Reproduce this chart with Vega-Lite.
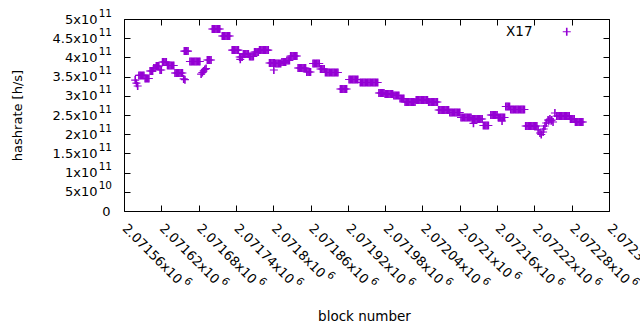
{
"$schema": "https://vega.github.io/schema/vega-lite/v6.json",
"width": 485, "height": 192,
"autosize": {"type": "none"},
"padding": {"left": 124, "top": 19, "right": 31, "bottom": 119},
"background": "white",
"config": {
 "view": {"stroke": "#000", "strokeWidth": 1, "fill": "white"},
 "font": "DejaVu Sans",
 "axis": {"grid": false, "domain": false, "labelColor": "#000", "titleColor": "#000", "tickColor": "#000", "tickWidth": 1, "labelFont": "DejaVu Sans", "titleFont": "DejaVu Sans", "labelOverlap": false, "labelFlush": false, "labelBound": false}
},
"data": {"values": [
{"b":2071578,"h":3.41e11},{"b":2071580,"h":3.33e11},{"b":2071582,"h":3.255e11},
{"b":2071584,"h":3.53e11},{"b":2071586,"h":3.53e11},{"b":2071588,"h":3.53e11},{"b":2071590,"h":3.53e11},{"b":2071592,"h":3.53e11},
{"b":2071594,"h":3.45e11},{"b":2071596,"h":3.45e11},{"b":2071598,"h":3.45e11},{"b":2071600,"h":3.45e11},
{"b":2071602,"h":3.646e11},{"b":2071604,"h":3.646e11},{"b":2071606,"h":3.646e11},
{"b":2071608,"h":3.724e11},{"b":2071610,"h":3.724e11},
{"b":2071612,"h":3.776e11},{"b":2071614,"h":3.776e11},{"b":2071616,"h":3.776e11},
{"b":2071618,"h":3.672e11},{"b":2071620,"h":3.672e11},
{"b":2071622,"h":3.88e11},{"b":2071624,"h":3.88e11},{"b":2071626,"h":3.88e11},{"b":2071628,"h":3.88e11},
{"b":2071630,"h":3.789e11},{"b":2071632,"h":3.789e11},{"b":2071634,"h":3.789e11},{"b":2071636,"h":3.789e11},{"b":2071638,"h":3.789e11},{"b":2071640,"h":3.789e11},
{"b":2071642,"h":3.594e11},{"b":2071644,"h":3.594e11},{"b":2071646,"h":3.594e11},{"b":2071648,"h":3.594e11},{"b":2071650,"h":3.594e11},{"b":2071652,"h":3.594e11},{"b":2071654,"h":3.594e11},
{"b":2071656,"h":3.44e11},{"b":2071658,"h":3.42e11},
{"b":2071657,"h":4.166e11},{"b":2071659,"h":4.166e11},{"b":2071661,"h":4.166e11},{"b":2071663,"h":4.166e11},
{"b":2071666,"h":3.893e11},{"b":2071668,"h":3.893e11},{"b":2071670,"h":3.893e11},{"b":2071672,"h":3.893e11},{"b":2071674,"h":3.893e11},{"b":2071676,"h":3.893e11},{"b":2071678,"h":3.893e11},{"b":2071680,"h":3.893e11},{"b":2071682,"h":3.893e11},
{"b":2071684,"h":3.567e11},{"b":2071686,"h":3.607e11},{"b":2071688,"h":3.646e11},{"b":2071690,"h":3.685e11},{"b":2071692,"h":3.71e11},
{"b":2071694,"h":3.932e11},{"b":2071696,"h":3.932e11},{"b":2071698,"h":3.932e11},{"b":2071700,"h":3.932e11},
{"b":2071702,"h":4.739e11},{"b":2071704,"h":4.739e11},{"b":2071706,"h":4.739e11},{"b":2071708,"h":4.739e11},{"b":2071710,"h":4.739e11},{"b":2071712,"h":4.739e11},{"b":2071714,"h":4.739e11},
{"b":2071718,"h":4.557e11},{"b":2071720,"h":4.557e11},{"b":2071722,"h":4.557e11},{"b":2071724,"h":4.557e11},{"b":2071726,"h":4.557e11},{"b":2071728,"h":4.557e11},{"b":2071730,"h":4.557e11},
{"b":2071734,"h":4.192e11},{"b":2071736,"h":4.192e11},{"b":2071738,"h":4.192e11},{"b":2071740,"h":4.192e11},{"b":2071742,"h":4.192e11},{"b":2071744,"h":4.192e11},
{"b":2071746,"h":4.01e11},{"b":2071748,"h":4.01e11},{"b":2071750,"h":4.01e11},{"b":2071747,"h":3.95e11},
{"b":2071752,"h":4.088e11},{"b":2071754,"h":4.088e11},{"b":2071756,"h":4.088e11},{"b":2071758,"h":4.088e11},{"b":2071760,"h":4.088e11},
{"b":2071762,"h":4.023e11},{"b":2071764,"h":4.023e11},{"b":2071766,"h":4.023e11},{"b":2071768,"h":4.023e11},
{"b":2071770,"h":4.14e11},{"b":2071772,"h":4.14e11},{"b":2071774,"h":4.14e11},{"b":2071776,"h":4.14e11},
{"b":2071778,"h":4.192e11},{"b":2071780,"h":4.192e11},{"b":2071782,"h":4.192e11},{"b":2071784,"h":4.192e11},{"b":2071786,"h":4.192e11},{"b":2071788,"h":4.192e11},{"b":2071790,"h":4.192e11},{"b":2071792,"h":4.192e11},
{"b":2071794,"h":3.854e11},{"b":2071796,"h":3.854e11},{"b":2071798,"h":3.854e11},{"b":2071800,"h":3.854e11},{"b":2071802,"h":3.854e11},{"b":2071801,"h":3.672e11},
{"b":2071804,"h":3.841e11},{"b":2071806,"h":3.841e11},{"b":2071808,"h":3.841e11},{"b":2071810,"h":3.841e11},{"b":2071812,"h":3.841e11},
{"b":2071814,"h":3.88e11},{"b":2071816,"h":3.88e11},{"b":2071818,"h":3.88e11},{"b":2071820,"h":3.88e11},
{"b":2071822,"h":3.919e11},{"b":2071824,"h":3.919e11},{"b":2071826,"h":3.919e11},
{"b":2071828,"h":4.036e11},{"b":2071830,"h":4.036e11},{"b":2071832,"h":4.036e11},{"b":2071834,"h":4.036e11},{"b":2071836,"h":4.036e11},{"b":2071838,"h":4.036e11},
{"b":2071840,"h":3.724e11},{"b":2071842,"h":3.724e11},{"b":2071844,"h":3.724e11},{"b":2071846,"h":3.724e11},{"b":2071848,"h":3.724e11},{"b":2071850,"h":3.724e11},{"b":2071852,"h":3.724e11},
{"b":2071854,"h":3.62e11},{"b":2071856,"h":3.62e11},{"b":2071858,"h":3.62e11},{"b":2071860,"h":3.62e11},
{"b":2071864,"h":3.841e11},{"b":2071866,"h":3.841e11},{"b":2071868,"h":3.841e11},{"b":2071870,"h":3.841e11},{"b":2071872,"h":3.841e11},{"b":2071874,"h":3.841e11},
{"b":2071876,"h":3.698e11},{"b":2071878,"h":3.698e11},{"b":2071880,"h":3.698e11},{"b":2071882,"h":3.698e11},
{"b":2071884,"h":3.607e11},{"b":2071886,"h":3.607e11},{"b":2071888,"h":3.607e11},{"b":2071890,"h":3.607e11},{"b":2071892,"h":3.607e11},{"b":2071894,"h":3.607e11},{"b":2071896,"h":3.607e11},{"b":2071898,"h":3.607e11},{"b":2071900,"h":3.607e11},{"b":2071902,"h":3.607e11},{"b":2071904,"h":3.607e11},
{"b":2071908,"h":3.177e11},{"b":2071910,"h":3.177e11},{"b":2071912,"h":3.177e11},{"b":2071914,"h":3.177e11},{"b":2071916,"h":3.177e11},{"b":2071918,"h":3.177e11},
{"b":2071922,"h":3.424e11},{"b":2071924,"h":3.424e11},{"b":2071926,"h":3.424e11},{"b":2071928,"h":3.424e11},{"b":2071930,"h":3.424e11},{"b":2071932,"h":3.424e11},{"b":2071934,"h":3.424e11},{"b":2071936,"h":3.424e11},
{"b":2071940,"h":3.346e11},{"b":2071942,"h":3.346e11},{"b":2071944,"h":3.346e11},{"b":2071946,"h":3.346e11},{"b":2071948,"h":3.346e11},{"b":2071950,"h":3.346e11},{"b":2071952,"h":3.346e11},{"b":2071954,"h":3.346e11},{"b":2071956,"h":3.346e11},{"b":2071958,"h":3.346e11},{"b":2071960,"h":3.346e11},{"b":2071962,"h":3.346e11},{"b":2071964,"h":3.346e11},{"b":2071966,"h":3.346e11},{"b":2071968,"h":3.346e11},
{"b":2071970,"h":3.073e11},{"b":2071972,"h":3.073e11},{"b":2071974,"h":3.073e11},{"b":2071976,"h":3.073e11},{"b":2071978,"h":3.073e11},
{"b":2071980,"h":3.047e11},{"b":2071982,"h":3.047e11},{"b":2071984,"h":3.047e11},{"b":2071986,"h":3.047e11},{"b":2071988,"h":3.047e11},{"b":2071990,"h":3.047e11},{"b":2071992,"h":3.047e11},
{"b":2071994,"h":3.008e11},{"b":2071996,"h":3.008e11},{"b":2071998,"h":3.008e11},{"b":2072000,"h":3.008e11},{"b":2072002,"h":3.008e11},
{"b":2072004,"h":2.93e11},{"b":2072006,"h":2.93e11},{"b":2072008,"h":2.93e11},{"b":2072010,"h":2.93e11},
{"b":2072012,"h":2.838e11},{"b":2072014,"h":2.838e11},{"b":2072016,"h":2.838e11},{"b":2072018,"h":2.838e11},{"b":2072020,"h":2.838e11},{"b":2072022,"h":2.838e11},{"b":2072024,"h":2.838e11},{"b":2072026,"h":2.838e11},{"b":2072028,"h":2.838e11},
{"b":2072030,"h":2.89e11},{"b":2072032,"h":2.89e11},{"b":2072034,"h":2.89e11},{"b":2072036,"h":2.89e11},{"b":2072038,"h":2.89e11},{"b":2072040,"h":2.89e11},{"b":2072042,"h":2.89e11},{"b":2072044,"h":2.89e11},{"b":2072046,"h":2.89e11},{"b":2072048,"h":2.89e11},
{"b":2072050,"h":2.838e11},{"b":2072052,"h":2.838e11},{"b":2072054,"h":2.838e11},{"b":2072056,"h":2.838e11},{"b":2072058,"h":2.838e11},{"b":2072060,"h":2.838e11},{"b":2072062,"h":2.838e11},{"b":2072064,"h":2.838e11},
{"b":2072066,"h":2.63e11},{"b":2072068,"h":2.63e11},{"b":2072070,"h":2.63e11},{"b":2072072,"h":2.63e11},{"b":2072074,"h":2.63e11},{"b":2072076,"h":2.63e11},{"b":2072078,"h":2.63e11},{"b":2072080,"h":2.63e11},{"b":2072082,"h":2.63e11},
{"b":2072084,"h":2.565e11},{"b":2072086,"h":2.565e11},{"b":2072088,"h":2.565e11},{"b":2072090,"h":2.565e11},{"b":2072092,"h":2.565e11},{"b":2072094,"h":2.565e11},{"b":2072096,"h":2.565e11},{"b":2072098,"h":2.565e11},{"b":2072100,"h":2.565e11},
{"b":2072102,"h":2.435e11},{"b":2072104,"h":2.435e11},{"b":2072106,"h":2.435e11},{"b":2072108,"h":2.435e11},{"b":2072110,"h":2.435e11},{"b":2072112,"h":2.435e11},{"b":2072114,"h":2.435e11},{"b":2072116,"h":2.435e11},{"b":2072118,"h":2.435e11},
{"b":2072120,"h":2.396e11},{"b":2072122,"h":2.396e11},{"b":2072124,"h":2.396e11},{"b":2072126,"h":2.396e11},{"b":2072128,"h":2.396e11},{"b":2072130,"h":2.396e11},{"b":2072132,"h":2.396e11},{"b":2072134,"h":2.396e11},{"b":2072136,"h":2.396e11},{"b":2072122,"h":2.284e11},
{"b":2072138,"h":2.226e11},{"b":2072140,"h":2.226e11},{"b":2072142,"h":2.226e11},{"b":2072144,"h":2.226e11},{"b":2072146,"h":2.226e11},
{"b":2072150,"h":2.5e11},{"b":2072152,"h":2.5e11},{"b":2072154,"h":2.5e11},{"b":2072156,"h":2.5e11},{"b":2072158,"h":2.5e11},{"b":2072160,"h":2.5e11},
{"b":2072162,"h":2.435e11},{"b":2072164,"h":2.435e11},{"b":2072166,"h":2.435e11},{"b":2072168,"h":2.435e11},{"b":2072170,"h":2.435e11},{"b":2072172,"h":2.435e11},{"b":2072168,"h":2.344e11},
{"b":2072174,"h":2.721e11},{"b":2072176,"h":2.721e11},{"b":2072178,"h":2.721e11},{"b":2072180,"h":2.721e11},
{"b":2072182,"h":2.643e11},{"b":2072184,"h":2.643e11},{"b":2072186,"h":2.643e11},{"b":2072188,"h":2.643e11},{"b":2072190,"h":2.643e11},{"b":2072192,"h":2.643e11},{"b":2072194,"h":2.643e11},{"b":2072196,"h":2.643e11},{"b":2072198,"h":2.643e11},{"b":2072200,"h":2.643e11},{"b":2072202,"h":2.643e11},{"b":2072204,"h":2.643e11},
{"b":2072206,"h":2.213e11},{"b":2072208,"h":2.213e11},{"b":2072210,"h":2.213e11},{"b":2072212,"h":2.213e11},{"b":2072214,"h":2.213e11},{"b":2072216,"h":2.213e11},{"b":2072218,"h":2.213e11},{"b":2072220,"h":2.213e11},{"b":2072222,"h":2.213e11},{"b":2072224,"h":2.213e11},
{"b":2072226,"h":2.109e11},{"b":2072229,"h":2.031e11},{"b":2072231,"h":1.992e11},{"b":2072234,"h":2.057e11},{"b":2072235,"h":2.135e11},
{"b":2072237,"h":2.213e11},{"b":2072239,"h":2.292e11},{"b":2072242,"h":2.37e11},{"b":2072243,"h":2.35e11},{"b":2072245,"h":2.396e11},{"b":2072247,"h":2.35e11},{"b":2072248,"h":2.37e11},{"b":2072250,"h":2.318e11},{"b":2072253,"h":2.552e11},
{"b":2072256,"h":2.474e11},{"b":2072258,"h":2.474e11},{"b":2072260,"h":2.474e11},{"b":2072262,"h":2.474e11},{"b":2072264,"h":2.474e11},{"b":2072266,"h":2.474e11},{"b":2072268,"h":2.474e11},{"b":2072270,"h":2.474e11},{"b":2072272,"h":2.474e11},{"b":2072274,"h":2.474e11},{"b":2072276,"h":2.474e11},
{"b":2072278,"h":2.396e11},{"b":2072280,"h":2.396e11},{"b":2072282,"h":2.396e11},{"b":2072284,"h":2.396e11},
{"b":2072286,"h":2.318e11},{"b":2072288,"h":2.318e11},{"b":2072290,"h":2.318e11},{"b":2072292,"h":2.318e11},{"b":2072294,"h":2.318e11},{"b":2072296,"h":2.318e11},{"b":2072298,"h":2.318e11}
]},
"layer": [
 {
  "mark": {"type": "point", "shape": "M-1,-0.15H-0.2V-1H0.2V-0.15H1V0.15H0.2V1H-0.2V0.15H-1Z", "filled": true, "size": 64, "strokeWidth": 0, "opacity": 1},
  "encoding": {
   "x": {"field": "b", "type": "quantitative", "scale": {"domain": [2071560, 2072340], "nice": false, "zero": false},
    "axis": {"orient": "bottom", "values": [2071560,2071620,2071680,2071740,2071800,2071860,2071920,2071980,2072040,2072100,2072160,2072220,2072280,2072340],
     "labelExpr": "format(datum.value/1e6,'.5~f')+'x10'", "labelAngle": 45, "labelAlign": "left", "labelBaseline": "middle", "labelFontSize": 13, "labelPadding": 15, "ticks": false, "tickSize": 0,
     "title": "block number", "titleFontSize": 13.5, "titleFontWeight": "normal", "titleX": 240, "titleY": 105, "titleAlign": "center", "titleBaseline": "middle"}},
   "y": {"field": "h", "type": "quantitative", "scale": {"domain": [0, 5e11], "nice": false},
    "axis": {"orient": "left", "values": [0,5e10,1e11,1.5e11,2e11,2.5e11,3e11,3.5e11,4e11,4.5e11,5e11],
     "labelExpr": "datum.value==0?'0':(datum.value<1e11?'5x10':format(datum.value/1e11,'.1~f')+'x10')", "labelAlign": "right", "labelBaseline": "middle", "labelFontSize": 13,
     "labelPadding": {"condition": {"test": "datum.value==0", "value": 14}, "value": 27}, "ticks": false, "tickSize": 0,
     "title": "hashrate [h/s]", "titleFontSize": 13, "titleFontWeight": "normal", "titleX": -107, "titleY": 96, "titleAngle": -90, "titleAlign": "center", "titleBaseline": "middle"}},
   "color": {"datum": "X17", "type": "nominal", "scale": {"range": ["#9400d3"]},
    "legend": {"title": null, "orient": "none", "legendX": 436, "legendY": 6, "padding": 0, "labelFontSize": 13.5, "labelFont": "DejaVu Sans", "labelColor": "#000", "labelAlign": "right", "labelOffset": -41, "symbolType": "M-1,-0.15H-0.2V-1H0.2V-0.15H1V0.15H0.2V1H-0.2V0.15H-1Z", "symbolSize": 64, "symbolStrokeWidth": 0}}
  }
 },
 {
  "mark": {"type": "point", "opacity": 0},
  "encoding": {
   "x": {"field": "b", "type": "quantitative", "scale": {"domain": [2071560, 2072340], "nice": false, "zero": false},
    "axis": {"orient": "top", "values": [2071560,2071620,2071680,2071740,2071800,2071860,2071920,2071980,2072040,2072100,2072160,2072220,2072280,2072340], "labels": false, "ticks": true, "tickSize": -6, "title": null}},
   "y": {"field": "h", "type": "quantitative", "scale": {"domain": [0, 5e11], "nice": false},
    "axis": {"orient": "right", "values": [0,5e10,1e11,1.5e11,2e11,2.5e11,3e11,3.5e11,4e11,4.5e11,5e11], "labels": false, "ticks": true, "tickSize": -6, "title": null}}
  }
 },
 {
  "mark": {"type": "point", "opacity": 0},
  "encoding": {
   "x": {"field": "b", "type": "quantitative", "scale": {"domain": [2071560, 2072340], "nice": false, "zero": false},
    "axis": {"orient": "bottom", "values": [2071560,2071620,2071680,2071740,2071800,2071860,2071920,2071980,2072040,2072100,2072160,2072220,2072280,2072340], "labels": false, "ticks": true, "tickSize": -6, "title": null}},
   "y": {"field": "h", "type": "quantitative", "scale": {"domain": [0, 5e11], "nice": false},
    "axis": {"orient": "left", "values": [0,5e10,1e11,1.5e11,2e11,2.5e11,3e11,3.5e11,4e11,4.5e11,5e11], "labels": false, "ticks": true, "tickSize": -6, "title": null}}
  }
 },
 {
  "mark": {"type": "point", "opacity": 0},
  "encoding": {
   "x": {"field": "b", "type": "quantitative", "scale": {"domain": [2071560, 2072340], "nice": false, "zero": false},
    "axis": {"orient": "bottom", "values": [2071560,2071620,2071680,2071740,2071800,2071860,2071920,2071980,2072040,2072100,2072160,2072220,2072280,2072340],
     "labelExpr": "'6'", "labelAngle": 45, "labelAlign": "left", "labelBaseline": "middle", "labelFontSize": 10.5, "ticks": false, "tickSize": 0,
     "labelOffset": {"condition": {"test": "datum.value==2071800||datum.value==2072100", "value": 55}, "value": 61},
     "labelPadding": {"condition": {"test": "datum.value==2071800||datum.value==2072100", "value": 62}, "value": 68}, "title": null}},
   "y": {"field": "h", "type": "quantitative", "scale": {"domain": [0, 5e11], "nice": false},
    "axis": {"orient": "left", "values": [0,5e10,1e11,1.5e11,2e11,2.5e11,3e11,3.5e11,4e11,4.5e11,5e11],
     "labelExpr": "datum.value==0?'':(datum.value<1e11?'10':'11')", "labelAlign": "right", "labelBaseline": "middle", "labelFontSize": 10.5, "labelPadding": 12.5, "labelOffset": -6, "ticks": false, "tickSize": 0, "title": null}}
  }
 }
],
"resolve": {"axis": {"x": "independent", "y": "independent"}}
}
